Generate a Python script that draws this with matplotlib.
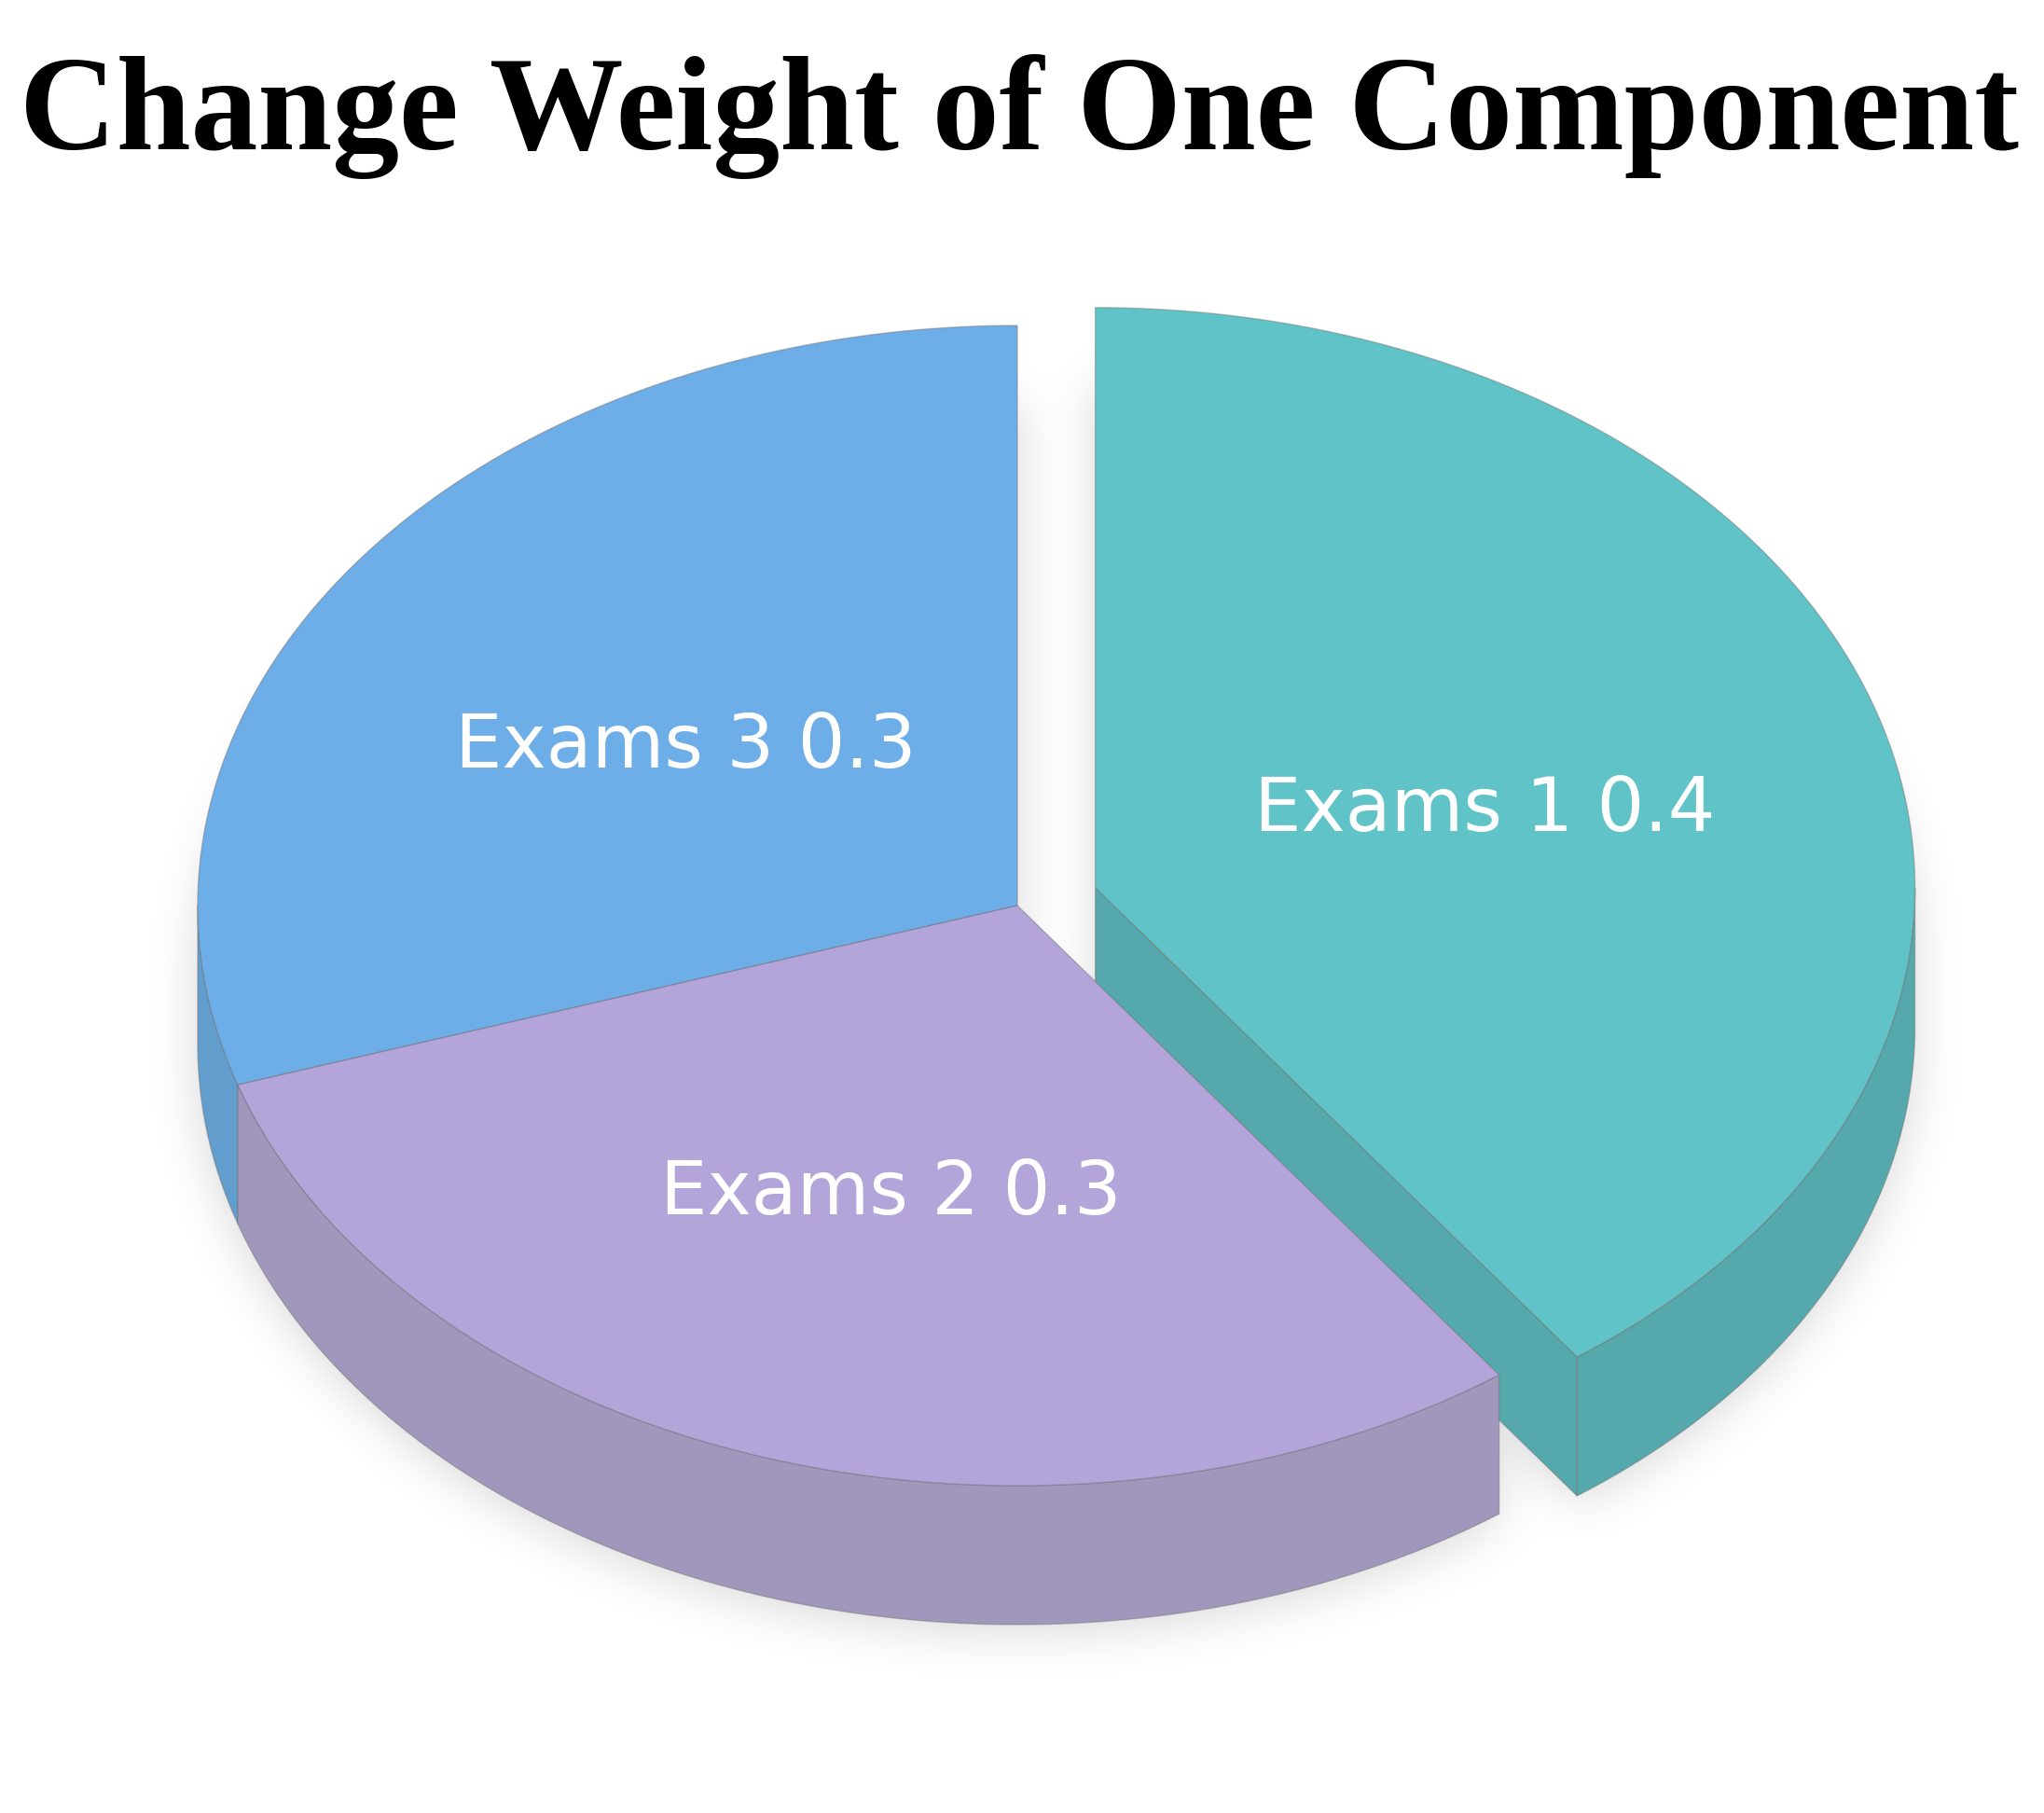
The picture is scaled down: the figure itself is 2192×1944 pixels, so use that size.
import numpy as np
import matplotlib
matplotlib.use("Agg")
import matplotlib.pyplot as plt
from matplotlib.patches import Polygon
from matplotlib.path import Path

# ---------------- data ----------------
title = "Change Weight of One Component"
labels = ["Exams 1", "Exams 2", "Exams 3"]
values = [0.4, 0.3, 0.3]
explode = [0.1, 0.0, 0.0]
top_colors = ["#60C3C7", "#B3A4DA", "#6EAEE8"]
side_colors = ["#55A8AB", "#A197BD", "#629ECD"]

# ---------------- layout ----------------
W, H = 2192, 1944
fig = plt.figure(figsize=(W / 100, H / 100), dpi=100)
ax = fig.add_axes([0, 0, 1, 1])
ax.set_xlim(0, W)
ax.set_ylim(H, 0)
ax.axis("off")

CX, CY = 1091, 971
RX, RY = 879, 622
DEPTH = 149
START = 90.0
EDGE = (0.45, 0.45, 0.45, 0.45)


def arc(cx, cy, a_from, a_to, z=0.0, n=240):
    th = np.radians(np.linspace(a_from, a_to, n))
    return np.column_stack([cx + RX * np.cos(th), cy - RY * np.sin(th) + z])


def sector(cx, cy, a1, a2, z=0.0):
    pts = arc(cx, cy, a2, a1, z)
    return np.vstack([[cx, cy + z], pts])


# build slices (clockwise from top)
total = float(sum(values))
slices = []
a = START
for i, v in enumerate(values):
    sweep = 360.0 * v / total
    a2, a1 = a, a - sweep
    mid = np.radians((a1 + a2) / 2)
    ox = explode[i] * RX * np.cos(mid)
    oy = -explode[i] * RY * np.sin(mid)
    slices.append(dict(i=i, a1=a1, a2=a2, mid=mid, cx=CX + ox, cy=CY + oy))
    a = a1

# ---------------- soft shadow ----------------
f = 4
gw, gh = W // f, H // f
gx = (np.arange(gw) + 0.5) * f
gy = (np.arange(gh) + 0.5) * f
GX, GY = np.meshgrid(gx, gy)
pts = np.column_stack([GX.ravel(), GY.ravel()])
mask = np.zeros(gw * gh, dtype=bool)
for s in slices:
    for z in np.linspace(0.55 * DEPTH, DEPTH + 6, 8):
        mask |= Path(sector(s["cx"], s["cy"], s["a1"], s["a2"], z)).contains_points(pts)
mask = mask.reshape(gh, gw).astype(float)


def box(arr, r, axis):
    pad = [(0, 0), (0, 0)]
    pad[axis] = (r + 1, r)
    p = np.pad(arr, pad, mode="constant")
    c = np.cumsum(p, axis=axis)
    if axis == 0:
        return (c[2 * r + 1:] - c[:-2 * r - 1]) / (2 * r + 1)
    return (c[:, 2 * r + 1:] - c[:, :-2 * r - 1]) / (2 * r + 1)


sh = mask
for _ in range(3):
    sh = box(sh, 6, 0)
    sh = box(sh, 6, 1)
img = np.zeros((gh, gw, 4))
img[..., 3] = np.clip(sh, 0, 1) * 0.16
ax.imshow(img, extent=[0, W, H, 0], zorder=0, interpolation="bilinear")

# ---------------- pie drawing ----------------
order = sorted(slices, key=lambda s: -np.sin(s["mid"]))
zo = 1
for s in order:
    i, a1, a2, cx, cy = s["i"], s["a1"], s["a2"], s["cx"], s["cy"]
    # radial faces
    faces = []
    if np.cos(np.radians(a2)) < -1e-6:
        faces.append(a2)
    if np.cos(np.radians(a1)) > 1e-6:
        faces.append(a1)
    for phi in faces:
        t = np.radians(phi)
        ex, ey = cx + RX * np.cos(t), cy - RY * np.sin(t)
        poly = [[cx, cy], [ex, ey], [ex, ey + DEPTH], [cx, cy + DEPTH]]
        ax.add_patch(Polygon(poly, closed=True, facecolor=side_colors[i],
                             edgecolor=EDGE, lw=1.0, zorder=zo))
    # outer front wall
    for k in (-1, 0, 1):
        lo = max(a1, 180 + 360 * k)
        hi = min(a2, 360 + 360 * k)
        if hi > lo:
            top = arc(cx, cy, lo, hi)
            bot = arc(cx, cy, hi, lo, DEPTH)
            ax.add_patch(Polygon(np.vstack([top, bot]), closed=True,
                                 facecolor=side_colors[i], edgecolor=EDGE,
                                 lw=1.0, zorder=zo))
    zo += 1
    # top face
    ax.add_patch(Polygon(sector(cx, cy, a1, a2), closed=True,
                         facecolor=top_colors[i], edgecolor=EDGE, lw=1.0, zorder=zo))
    zo += 1

# ---------------- labels ----------------
LFS = 57.5
cap = 0.729 * LFS * 100 / 72
for s in slices:
    i = s["i"]
    lx = s["cx"] + 0.5 * RX * np.cos(s["mid"])
    ly = s["cy"] - 0.5 * RY * np.sin(s["mid"]) + 6 + cap / 2
    ax.text(lx, ly, f"{labels[i]} {values[i]:g}", ha="center", va="baseline",
            fontsize=LFS, color="white", family="DejaVu Sans", zorder=50)

# ---------------- title ----------------
t = fig.text(1093 / W, 1 - 160 / H, title, ha="center", va="baseline",
             fontsize=120, fontweight="bold", family="Liberation Serif", color="black")
fig.canvas.draw()
wpx = t.get_window_extent().width
t.set_fontsize(120 * 2144 / wpx)

fig.savefig("out.png", dpi=100)
